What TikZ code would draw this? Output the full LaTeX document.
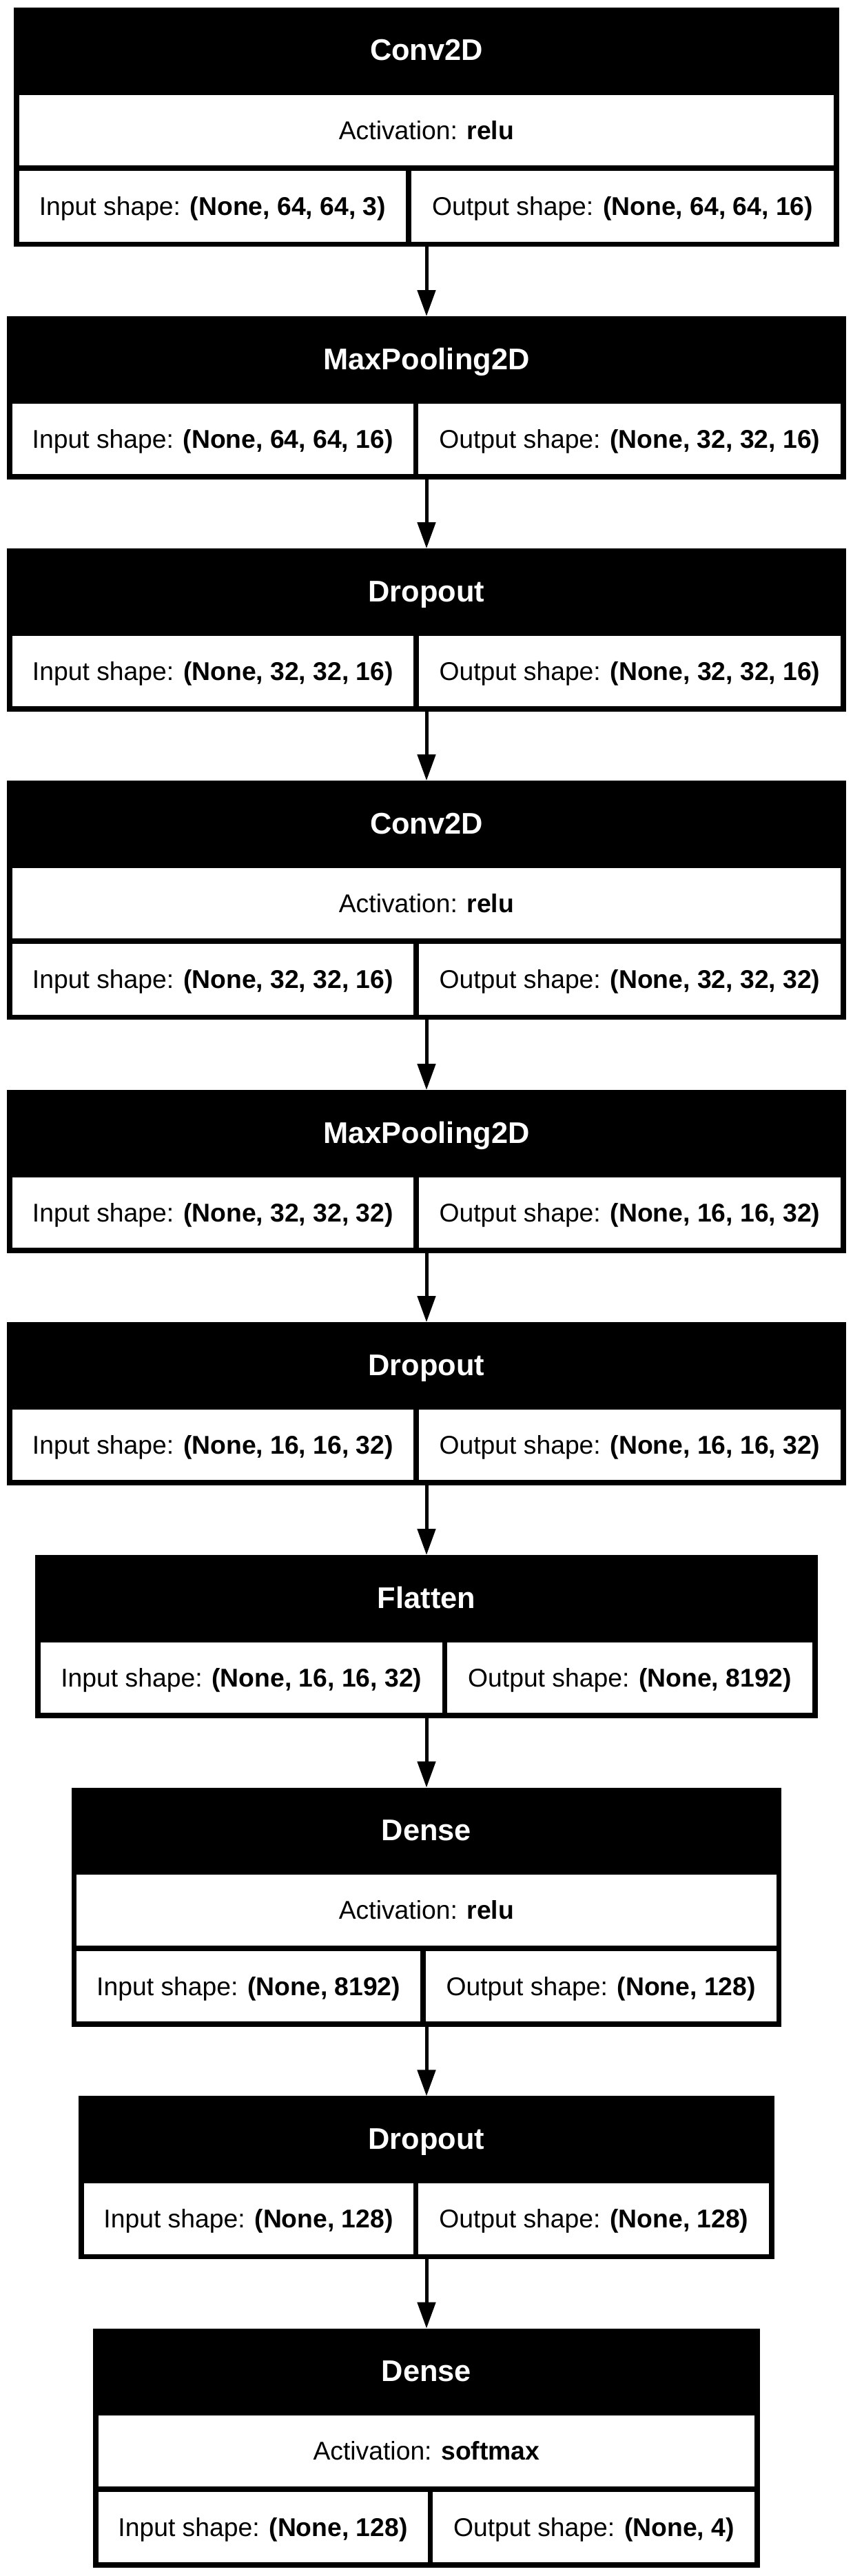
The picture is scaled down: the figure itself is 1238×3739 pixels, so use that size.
\documentclass[tikz,border=0pt]{standalone}
\usepackage{fontspec}
\setmainfont{Liberation Sans}
\usetikzlibrary{arrows.meta}
\tikzset{
  outerbox/.style={draw=none, fill=black, inner sep=0pt, outer sep=0pt, rectangle},
  cellbox/.style={draw=none, fill=white, inner sep=0pt, outer sep=0pt, rectangle,
    text height=26.7pt, text depth=0pt, font=\fontsize{37.3pt}{44pt}\selectfont},
  titletext/.style={inner sep=0pt, outer sep=0pt, text=white,
    font=\fontsize{43.4pt}{50pt}\selectfont\bfseries},
  arr/.style={line width=5pt, -{Triangle[length=38pt, width=26pt]}},
}
% #1 id, #2 left, #3 top, #4 divider x, #5 title, #6 activation, #7 input, #8 output
\newcommand{\mkblockthree}[8]{%
  \pgfmathsetmacro\mybw{1238-2*#2}%
  \pgfmathsetmacro\mycw{\mybw-2*7.8}%
  \pgfmathsetmacro\mylw{#4-#2-7.8}%
  \pgfmathsetmacro\myrw{1238-#2-7.8-#4-7.8}%
  \node[outerbox, minimum width=\mybw pt, minimum height=347.3pt, anchor=north west] (b#1) at (#2,#3) {};
  \node[titletext, anchor=base] (t#1) at (619,#3+77) {#5};
  \node[cellbox, minimum width=\mycw pt, minimum height=102.6pt, anchor=north west] (a#1) at (#2+7.8,#3+126.5) {Activation: \textbf{#6}};
  \node[cellbox, minimum width=\mylw pt, minimum height=102.6pt, anchor=north west] (i#1) at (#2+7.8,#3+236.9) {Input shape: \textbf{#7}};
  \node[cellbox, minimum width=\myrw pt, minimum height=102.6pt, anchor=north west] (o#1) at (#4+7.8,#3+236.9) {Output shape: \textbf{#8}};
}
% #1 id, #2 left, #3 top, #4 divider x, #5 title, #6 input, #7 output
\newcommand{\mkblocktwo}[7]{%
  \pgfmathsetmacro\mybw{1238-2*#2}%
  \pgfmathsetmacro\mylw{#4-#2-7.8}%
  \pgfmathsetmacro\myrw{1238-#2-7.8-#4-7.8}%
  \node[outerbox, minimum width=\mybw pt, minimum height=236.9pt, anchor=north west] (b#1) at (#2,#3) {};
  \node[titletext, anchor=base] (t#1) at (619,#3+77) {#5};
  \node[cellbox, minimum width=\mylw pt, minimum height=102.6pt, anchor=north west] (i#1) at (#2+7.8,#3+126.5) {Input shape: \textbf{#6}};
  \node[cellbox, minimum width=\myrw pt, minimum height=102.6pt, anchor=north west] (o#1) at (#4+7.8,#3+126.5) {Output shape: \textbf{#7}};
}
\begin{document}
\begin{tikzpicture}[x=1pt,y=-1pt]
\fill[white] (0,0) rectangle (1238,3739);
\useasboundingbox (0,0) rectangle (1238,3739);
\mkblockthree{1}{20}{11}{589}{Conv2D}{relu}{(None, 64, 64, 3)}{(None, 64, 64, 16)}
\mkblocktwo{2}{10}{459}{599.5}{MaxPooling2D}{(None, 64, 64, 16)}{(None, 32, 32, 16)}
\mkblocktwo{3}{10}{796}{600}{Dropout}{(None, 32, 32, 16)}{(None, 32, 32, 16)}
\mkblockthree{4}{10}{1133}{600}{Conv2D}{relu}{(None, 32, 32, 16)}{(None, 32, 32, 32)}
\mkblocktwo{5}{10}{1582}{600}{MaxPooling2D}{(None, 32, 32, 32)}{(None, 16, 16, 32)}
\mkblocktwo{6}{10}{1919}{600}{Dropout}{(None, 16, 16, 32)}{(None, 16, 16, 32)}
\mkblocktwo{7}{51.3}{2257}{641.5}{Flatten}{(None, 16, 16, 32)}{(None, 8192)}
\mkblockthree{8}{103.6}{2594.6}{610}{Dense}{relu}{(None, 8192)}{(None, 128)}
\mkblocktwo{9}{113.8}{3042.4}{599.5}{Dropout}{(None, 128)}{(None, 128)}
\mkblockthree{10}{134.8}{3379.6}{620.5}{Dense}{softmax}{(None, 128)}{(None, 4)}
\draw[arr] (b1.south) -- (b2.north);
\draw[arr] (b2.south) -- (b3.north);
\draw[arr] (b3.south) -- (b4.north);
\draw[arr] (b4.south) -- (b5.north);
\draw[arr] (b5.south) -- (b6.north);
\draw[arr] (b6.south) -- (b7.north);
\draw[arr] (b7.south) -- (b8.north);
\draw[arr] (b8.south) -- (b9.north);
\draw[arr] (b9.south) -- (b10.north);
\end{tikzpicture}
\end{document}
